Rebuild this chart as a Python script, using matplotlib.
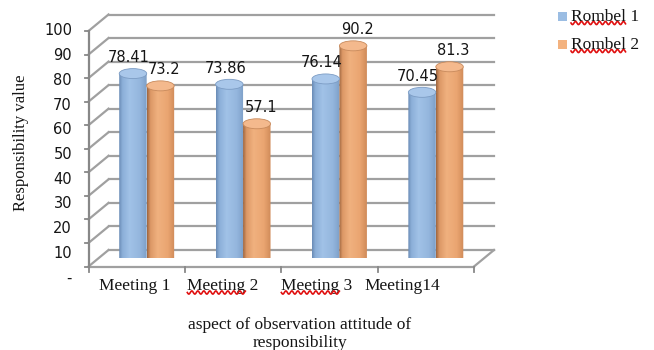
import numpy as np
import matplotlib
matplotlib.use("Agg")
import matplotlib.pyplot as plt
from matplotlib.patches import Polygon, Ellipse, Rectangle
from matplotlib.lines import Line2D
from matplotlib.colors import LinearSegmentedColormap

# ---- data -------------------------------------------------------------
categories = ["Meeting 1", "Meeting 2", "Meeting 3", "Meeting14"]
series_names = ["Rombel 1", "Rombel 2"]
rombel1 = [78.41, 73.86, 76.14, 70.45]
rombel2 = [73.2, 57.1, 90.2, 81.3]
y_ticks = [0, 10, 20, 30, 40, 50, 60, 70, 80, 90, 100]
y_tick_labels = ["-", "10", "20", "30", "40", "50", "60", "70", "80", "90", "100"]
x_title = ["aspect of observation attitude of", "responsibility"]
y_title = "Responsibility value"

# ---- figure / layout --------------------------------------------------
W, H, DPI = 654, 350, 100
fig = plt.figure(figsize=(W / DPI, H / DPI), dpi=DPI)
fig.patch.set_facecolor("white")


def fx(px):
    return px / W


def fy(py):
    return 1 - py / H


# axes = plane through the centres of the cylinders (mid depth of the box)
L, R, B, T = 98.5, 484.0, 258.25, 22.75
ax = fig.add_axes([fx(L), fy(B), (R - L) / W, (B - T) / H])
ax.set_xlim(0, 4)
ax.set_ylim(0, 100)
ax.set_autoscale_on(False)
ax.axis("off")

px_x = (R - L) / 4.0          # pixels per category
px_y = (B - T) / 100.0        # pixels per value unit
DX = 10.0 / px_x              # half box depth, data units
DY = 8.25 / px_y

GRID = "#a0a0a0"
AXIS = "#888888"
SERIF = ["Liberation Serif", "DejaVu Serif"]
SANS = ["DejaVu Sans"]
INK = "#151515"

# back wall and side wall gridlines
for v in y_ticks:
    ax.add_line(Line2D([DX, 4 + DX], [v + DY, v + DY], color=GRID, lw=1.6,
                       clip_on=False, zorder=1))
    ax.add_line(Line2D([-DX, DX], [v - DY, v + DY], color=GRID, lw=1.6,
                       clip_on=False, zorder=1))

# floor edges
ax.add_line(Line2D([-DX, 4 - DX], [-DY, -DY], color=GRID, lw=1.6, clip_on=False, zorder=1))
ax.add_line(Line2D([4 - DX, 4 + DX], [-DY, DY], color=GRID, lw=1.6, clip_on=False, zorder=1))

# value axis on the front edge
ax.add_line(Line2D([-DX, -DX], [-DY, 100 - DY], color=AXIS, lw=1.6, clip_on=False, zorder=2))
tick_x = 4.0 / px_x
for v in y_ticks:
    ax.add_line(Line2D([-DX - tick_x, -DX], [v - DY, v - DY], color=AXIS, lw=1.3,
                       clip_on=False, zorder=2))
tick_y = 5.0 / px_y
for k in range(len(categories) + 1):
    ax.add_line(Line2D([k - DX, k - DX], [-DY, -DY - tick_y], color=AXIS, lw=1.3,
                       clip_on=False, zorder=2))

# value tick labels
for v, lab in zip(y_ticks, y_tick_labels):
    ax.text(-0.275, -8.39 + 1.049 * v, lab, ha="right", va="center",
            fontsize=10.5, family=SANS, color=INK, clip_on=False)

# ---- cylinders --------------------------------------------------------
blue_cmap = LinearSegmentedColormap.from_list(
    "cyl_blue", [(0.0, "#6a8cb6"), (0.12, "#8cafd8"), (0.38, "#a1c2e7"),
                 (0.75, "#94b6dd"), (1.0, "#7d9fc8")])
orange_cmap = LinearSegmentedColormap.from_list(
    "cyl_orange", [(0.0, "#9e6640"), (0.12, "#dc9866"), (0.38, "#f0b17f"),
                   (0.75, "#eaa571"), (1.0, "#d08b59")])
top_face = ["#a9c7ea", "#f4b98d"]
top_edge = ["#7c9cc4", "#c88a5c"]
label_dx = [-4.0 / px_x, 4.0 / px_x]

bar_w = 0.285
half = bar_w / 2
ry = 5.0 / px_y
grad = np.linspace(0, 1, 96)

for s, (vals, cmap) in enumerate([(rombel1, blue_cmap), (rombel2, orange_cmap)]):
    rgba = cmap(grad)[None, :, :]
    for i, v in enumerate(vals):
        c = i + 0.5 + (s - 0.5) * bar_w
        t = np.linspace(np.pi, 2 * np.pi, 40)
        outline = np.vstack([
            [[c - half, v]],
            np.column_stack([c + half * np.cos(t), ry * np.sin(t)]),
            [[c + half, v]],
        ])
        body = Polygon(outline, closed=True, facecolor="none", edgecolor="none",
                       zorder=3)
        ax.add_patch(body)
        im = ax.imshow(rgba, extent=[c - half, c + half, -ry, v], aspect="auto",
                       origin="lower", interpolation="bilinear", zorder=3)
        im.set_clip_path(body)
        ax.add_patch(Ellipse((c, v), 2 * half, 2 * ry, facecolor=top_face[s],
                             edgecolor=top_edge[s], lw=0.6, zorder=4))
        ax.text(c + label_dx[s], v + 16.0 / px_y, f"{v:g}", ha="center", va="center",
                fontsize=10.5, family=SANS, color=INK, zorder=5)

ax.set_xlim(0, 4)
ax.set_ylim(0, 100)

# ---- category labels --------------------------------------------------
label_pos = [0.379, 1.292, 2.267, 3.149]
label_base = (B - 290.0) / px_y
cat_texts = []
for pos, name in zip(label_pos, categories):
    cat_texts.append(ax.text(pos, label_base, name, ha="center", va="baseline",
                             fontsize=12.5, family=SERIF, color=INK,
                             clip_on=False))

# ---- titles -----------------------------------------------------------
fig.text(fx(300), fy(329), x_title[0], ha="center", va="baseline",
         fontsize=12.5, family=SERIF, color=INK)
fig.text(fx(300), fy(347), x_title[1], ha="center", va="baseline",
         fontsize=12.5, family=SERIF, color=INK)
fig.text(fx(21), fy(143), y_title, ha="center", va="center", rotation=90,
         fontsize=12, family=SERIF, color=INK)

# ---- legend -----------------------------------------------------------
legend_colors = ["#9bbde3", "#f3b27f"]
legend_texts = []
for k, (name, col) in enumerate(zip(series_names, legend_colors)):
    cy = 16.5 + 28 * k
    fig.add_artist(Rectangle((fx(558), fy(cy + 4.5)), 9 / W, 9 / H,
                             transform=fig.transFigure, facecolor=col,
                             edgecolor="none"))
    legend_texts.append(fig.text(fx(571), fy(21 + 28 * k), name, ha="left",
                                 va="baseline", fontsize=12.5, family=SERIF,
                                 color=INK))

# ---- red wavy proofing underlines ------------------------------------
fig.canvas.draw()
renderer = fig.canvas.get_renderer()


def word_width(text_obj, word):
    tmp = fig.text(0, 0, word, fontproperties=text_obj.get_fontproperties())
    w = tmp.get_window_extent(renderer).width
    tmp.remove()
    return w


def squiggle(x0, x1, y):
    xs = np.arange(x0, x1, 0.5)
    ys = y + 1.6 * np.sin((xs - x0) / 6.0 * 2 * np.pi)
    fig.add_artist(Line2D(xs / W, 1 - ys / H, transform=fig.transFigure,
                          color="#e01010", lw=1.2))


for idx in (1, 2):
    t = cat_texts[idx]
    ext = t.get_window_extent(renderer)
    squiggle(ext.x0, ext.x0 + word_width(t, "Meeting"), 292.5)
for k, t in enumerate(legend_texts):
    ext = t.get_window_extent(renderer)
    squiggle(ext.x0, ext.x0 + word_width(t, "Rombel"), 23 + 28 * k)

fig.savefig("out.png", dpi=DPI, facecolor="white")
